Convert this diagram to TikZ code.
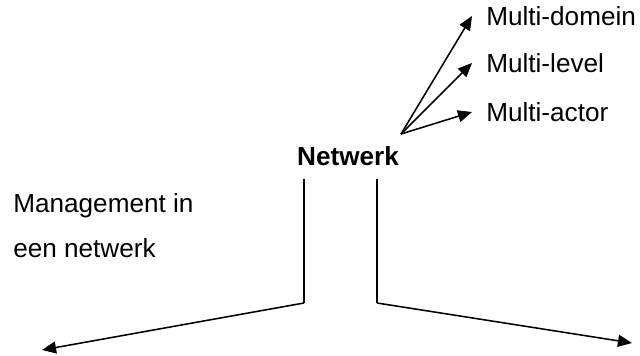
\documentclass[tikz,border=0pt]{standalone}
\usepackage{fontspec}
\setmainfont{Liberation Sans}
\usepackage{tikz}
\usetikzlibrary{arrows.meta,positioning,calc}

\tikzset{
    lbl/.style={inner sep=0pt, font=\fontsize{18.6}{22}\selectfont},
    tiplbl/.style={lbl, anchor=west, inner xsep=0.35cm},
    ln/.style={line width=1.1pt},
    arr/.style={ln, -{Triangle[length=10pt,width=8.5pt]}}
}

\begin{document}
\begin{tikzpicture}
    \useasboundingbox (0,0) rectangle (16,8.9);

    % the three "multi" labels
    \node[tiplbl] (dom) at (11.8,8.5) {Multi-domein};
    \node[tiplbl] (lev) at (11.8,7.325) {Multi-level};
    \node[tiplbl] (act) at (11.8,6.1) {Multi-actor};
    \coordinate (hub) at (10.025,5.55);

    \draw[arr] (hub) -- (dom.west);
    \draw[arr] (hub) -- (lev.west);
    \draw[arr] (hub) -- (act.west);

    % centre
    \node[lbl, anchor=base, font=\fontsize{18.6}{22}\selectfont\bfseries] (net) at (8.7,4.75) {Netwerk};

    \node[lbl, anchor=base west] (mgmt) at (0.325,3.575) {Management in};
    \node[lbl, anchor=base west] (een) at (0.325,2.45) {een netwerk};

    % the two legs
    \coordinate (lt) at (7.6,4.425);
    \coordinate (lb) at (7.6,1.325);
    \coordinate (ltip) at (1.05,0.15);
    \coordinate (rt) at (9.425,4.425);
    \coordinate (rb) at (9.425,1.325);
    \coordinate (rtip) at (15.8,0.325);

    \draw[ln] (lt) -- (lb);
    \draw[arr] (lb) -- (ltip);
    \draw[ln] (rt) -- (rb);
    \draw[arr] (rb) -- (rtip);
\end{tikzpicture}
\end{document}
